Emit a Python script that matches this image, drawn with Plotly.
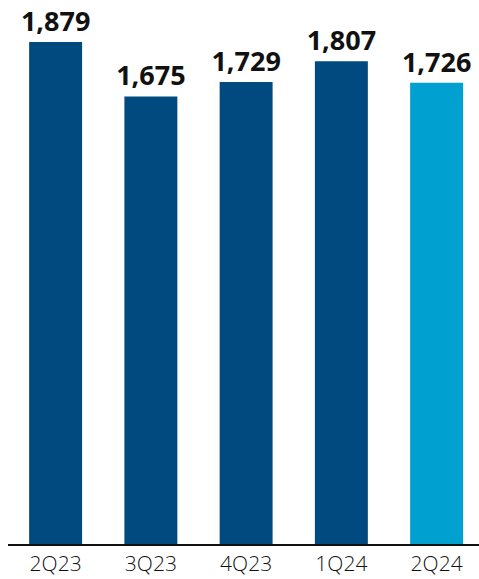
import plotly.graph_objects as go

categories = ["2Q23", "3Q23", "4Q23", "1Q24", "2Q24"]
values = [1879, 1675, 1729, 1807, 1726]
colors = ["#004A80", "#004A80", "#004A80", "#004A80", "#00A0D0"]

fig = go.Figure(go.Bar(
    x=categories, y=values,
    marker=dict(color=colors, line=dict(width=0)),
    texttemplate="%{y:,}", textposition="outside", constraintext="none",
    textfont=dict(family="Open Sans", size=27, color="#111111", weight="bold"),
    cliponaxis=False, hoverinfo="skip",
))

fig.update_layout(
    width=479, height=579,
    margin=dict(l=8, r=0, t=0, b=35, autoexpand=False),
    paper_bgcolor="white", plot_bgcolor="white",
    bargap=0.444, showlegend=False,
    xaxis=dict(range=[-0.5, 4.445], showline=True, linecolor="#111111", linewidth=2,
               ticks="", automargin=False,
               tickfont=dict(family="Open Sans", size=21, color="#111111", weight=300),
               showgrid=False, zeroline=False),
    yaxis=dict(range=[0, 2036], visible=False, showgrid=False, zeroline=False, automargin=False),
)

fig.write_html("out.html", config={"displayModeBar": False},
               post_script="document.body.style.margin='0';document.body.style.overflow='hidden';")
